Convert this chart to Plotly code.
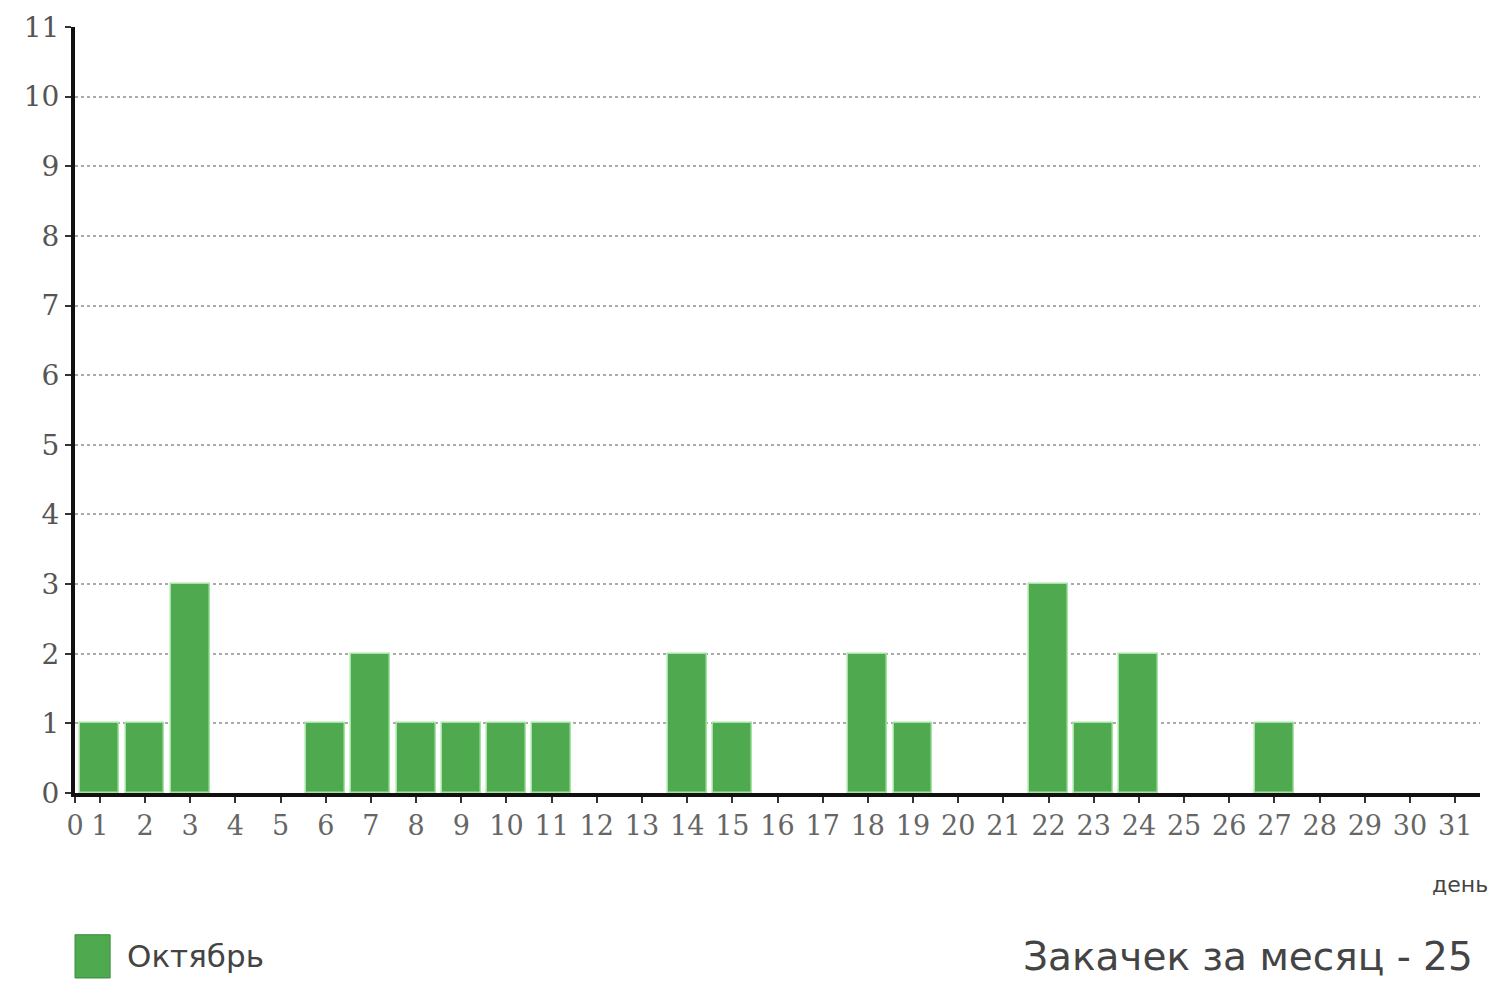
import plotly.graph_objects as go

days = list(range(1, 32))
day_labels = [str(d) for d in days]
downloads = [1, 1, 3, 0, 0, 1, 2, 1, 1, 1, 1, 0, 0, 2, 1, 0, 0, 2, 1, 0, 0, 3, 1, 2, 0, 0, 1, 0, 0, 0, 0]
series_name = "Октябрь"
total_text = "Закачек за месяц - " + str(sum(downloads))
y_ticks = list(range(0, 12))

fig = go.Figure()
fig.add_trace(go.Bar(
    x=days, y=downloads, name=series_name,
    marker=dict(color="#4fa94f",
                line=dict(color="#a6e3a6", width=[1.5 if v > 0 else 0 for v in downloads])),
    width=0.86, showlegend=False,
))

x0 = 0.45
fig.update_layout(
    width=1491, height=975,
    margin=dict(l=67, r=19, t=19, b=190),
    plot_bgcolor="white", paper_bgcolor="white",
    font=dict(family="DejaVu Sans", color="#555555"),
    bargap=0,
    xaxis=dict(
        range=[x0, 31.55], automargin=False,
        tickvals=[x0] + days, ticktext=["0"] + day_labels,
        tickfont=dict(size=27, color="#666666", family="DejaVu Serif"),
        ticks="outside", ticklen=6, tickwidth=2, tickcolor="#333333",
        showline=True, linecolor="#111111", linewidth=4,
        showgrid=False, zeroline=False,
    ),
    yaxis=dict(
        range=[0, 11], automargin=False,
        tickvals=y_ticks,
        tickfont=dict(size=28, color="#555555", family="DejaVu Serif"),
        ticks="outside", ticklen=6, tickwidth=2, tickcolor="#333333",
        showline=True, linecolor="#111111", linewidth=4,
        showgrid=True, gridcolor="#aaaaaa", gridwidth=2, griddash="dot",
        zeroline=False,
    ),
)

# legend swatch + label
fig.add_shape(type="rect", xref="paper", yref="paper",
              x0=0.0, x1=0.025, y0=-0.2415, y1=-0.185,
              fillcolor="#4fa94f", line=dict(color="#3d8f3d", width=1))
fig.add_annotation(xref="paper", yref="paper", x=0.0356, y=-0.213,
                   text=series_name, showarrow=False, xanchor="left", yanchor="middle",
                   font=dict(size=31, color="#444444", family="DejaVu Sans"))
fig.add_annotation(xref="paper", yref="paper", x=0.9964, y=-0.213,
                   text=total_text, showarrow=False, xanchor="right", yanchor="middle",
                   font=dict(size=39, color="#444444", family="DejaVu Sans"))
fig.add_annotation(xref="paper", yref="paper", x=1.007, y=-0.12,
                   text="день", showarrow=False, xanchor="right", yanchor="middle",
                   font=dict(size=22, color="#444444", family="DejaVu Sans"))

fig.write_html("out.html")
